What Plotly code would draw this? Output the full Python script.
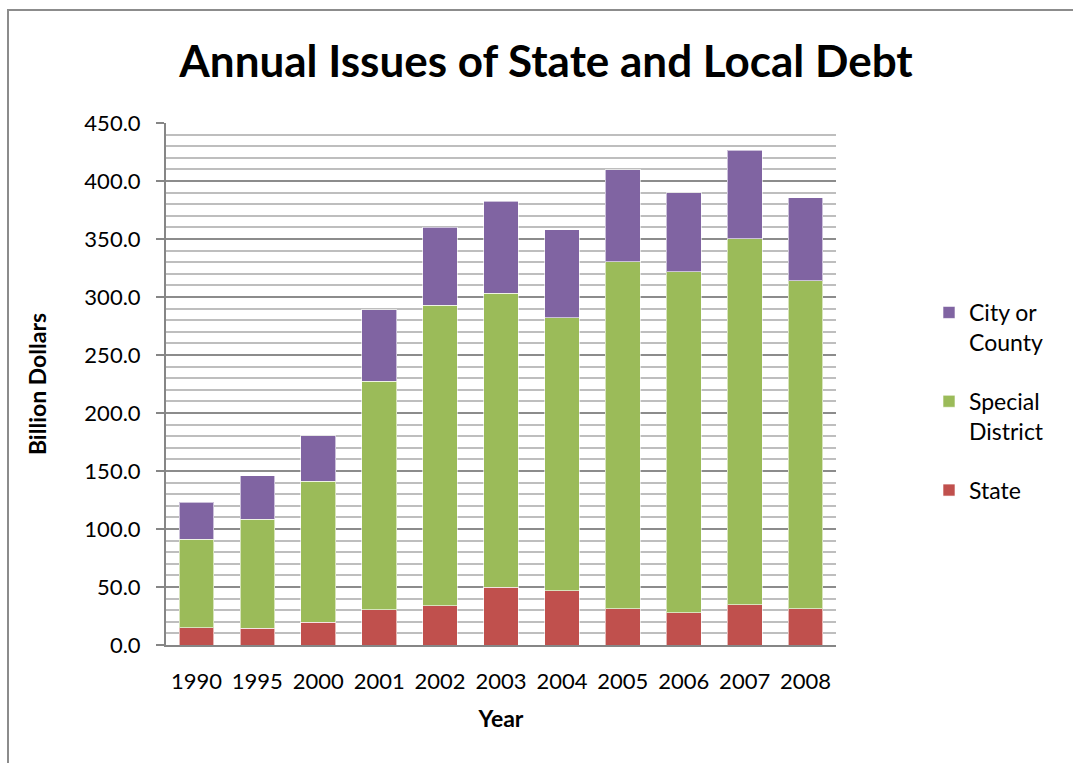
import plotly.graph_objects as go

years = ["1990", "1995", "2000", "2001", "2002", "2003", "2004", "2005", "2006", "2007", "2008"]
state = [14.9, 14.4, 19.8, 30.2, 33.9, 50.0, 46.8, 31.3, 27.9, 34.7, 31.3]
special_district = [76.3, 93.9, 121.2, 197.3, 259.2, 253.4, 235.2, 298.9, 294.0, 315.6, 282.5]
city_county = [31.8, 37.4, 39.5, 61.5, 67.2, 79.1, 75.8, 79.6, 67.8, 76.1, 71.8]

series_names = ["State", "Special<br>District", "City or<br>County"]
series_colors = ["#C0504D", "#9BBB59", "#8064A2"]
series_values = [state, special_district, city_county]

FONT = "Lato, 'Open Sans', Arial, sans-serif"

fig = go.Figure()
for i, (name, color, vals) in enumerate(zip(series_names, series_colors, series_values)):
    fig.add_trace(go.Bar(
        x=years, y=vals, name=name, legendgroup=f"g{i}", legendrank=10 - i,
        marker=dict(color=color, line=dict(color="rgba(255,255,255,0.6)", width=1)),
    ))

L, R, T, B = 166, 1073 - 836, 123, 763 - 645
pw, ph = 1073 - L - R, 763 - T - B

def px2x(px):
    return (px - L) / pw

def py2y(py):
    return (763 - B - py) / ph

fig.update_layout(
    width=1073, height=763,
    margin=dict(l=L, r=R, t=T, b=B),
    paper_bgcolor="white", plot_bgcolor="white",
    barmode="stack", bargap=0.43,
    font=dict(family=FONT, color="black", size=22),
    title=dict(
        text="<b>Annual Issues of State and Local Debt</b>",
        x=546 / 1073, xanchor="center", y=1 - 62 / 763, yanchor="middle",
        font=dict(size=44, family=FONT, color="black"),
    ),
    legend=dict(
        traceorder="grouped", x=px2x(929), xanchor="left", y=py2y(291), yanchor="top",
        font=dict(size=23, family=FONT), itemwidth=30, tracegroupgap=26, valign="top",
        bgcolor="rgba(0,0,0,0)",
    ),
    xaxis=dict(
        showline=True, linecolor="#868686", linewidth=2,
        ticks="", tickfont=dict(size=22), ticklabelstandoff=16,
        title=dict(text="<b>Year</b>", font=dict(size=23), standoff=17),
    ),
    yaxis=dict(
        range=[0, 450], dtick=50, tickformat=".1f",
        showline=True, linecolor="#868686", linewidth=2,
        ticks="outside", ticklen=8, tickcolor="#868686", tickwidth=2,
        showgrid=True, gridcolor="#8C8C8C", gridwidth=2,
        minor=dict(dtick=10, showgrid=True, gridcolor="#BEBEBE", gridwidth=2, ticks=""),
        tickfont=dict(size=22), zeroline=False, ticklabelstandoff=11,
        title=dict(text="<b>Billion Dollars</b>", font=dict(size=23), standoff=31),
    ),
    shapes=[dict(
        type="rect", xref="paper", yref="paper", layer="below",
        x0=px2x(8), x1=px2x(1090), y0=py2y(780), y1=py2y(10),
        line=dict(color="#8C8C8C", width=2), fillcolor="rgba(0,0,0,0)",
    )],
)

fig.write_html("out.html")
